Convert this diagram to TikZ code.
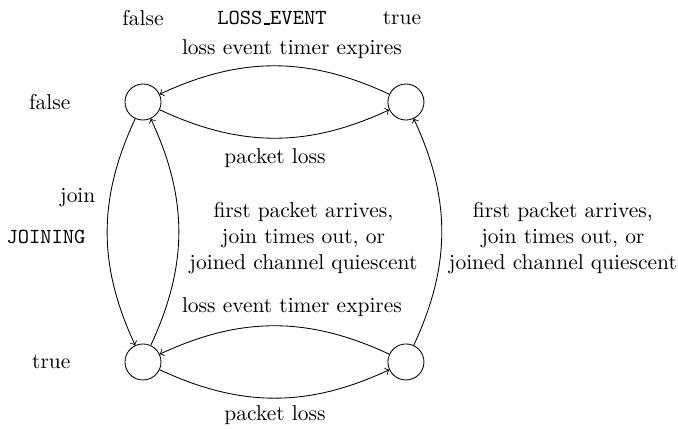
\documentclass[tikz,border=0pt]{standalone}
\usetikzlibrary{positioning}
\newcommand{\ttul}{\leavevmode\kern.06em\vbox{\hrule width .3em height .6pt}}

\begin{document}
\begin{tikzpicture}[>=to]
	\tikzstyle{every node}=[inner sep=1pt]
	\tikzstyle{state}=[draw,circle,minimum size=0.59cm]
	\tikzstyle{trans}=[->,bend right=25]
	\useasboundingbox (0,0) rectangle (11.10,7.023);
	% states
	\node[state] (ff) at (2.341,5.353) {};
	\node[state] (ft) at (6.646,5.353) {};
	\node[state] (tf) at (2.341,1.097) {};
	\node[state] (tt) at (6.646,1.097) {};
	% axis labels
	\node (lossf) at (2.341,6.728) {false};
	\node (losslbl) at (4.453,6.728) {\texttt{LOSS\ttul EVENT}};
	\node (losst) at (6.581,6.728) {true};
	\node[anchor=east] (joinf) at (1.195,5.353) {false};
	\node (joinlbl) at (0.753,3.143) {\texttt{JOINING}};
	\node[anchor=east] (joint) at (1.195,1.097) {true};
	% transitions
	\draw (ft) edge[trans] (ff);
	\draw (ff) edge[trans] (ft);
	\draw (ff) edge[trans] (tf);
	\draw (tf) edge[trans] (ff);
	\draw (tt) edge[trans] (ft);
	\draw (tt) edge[trans] (tf);
	\draw (tf) edge[trans] (tt);
	% transition labels
	\node (timertop) at (4.780,6.221) {loss event timer expires};
	\node (losstop) at (4.502,4.436) {packet loss};
	\node[anchor=east] (join) at (1.604,3.781) {join};
	\node[align=center] (leavel) at (4.968,3.127) {first packet arrives,\\join times out, or\\joined channel quiescent};
	\node[align=center] (leaver) at (9.216,3.127) {first packet arrives,\\join times out, or\\joined channel quiescent};
	\node (timerbot) at (4.780,1.997) {loss event timer expires};
	\node (lossbot) at (4.502,0.229) {packet loss};
\end{tikzpicture}
\end{document}
